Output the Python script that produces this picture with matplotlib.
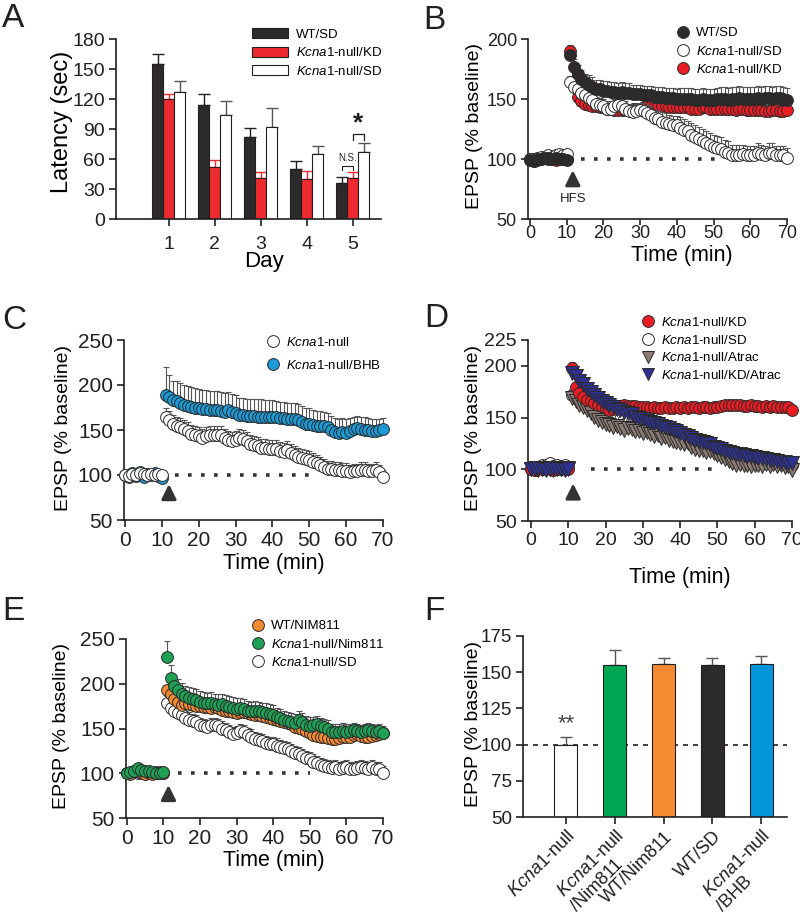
import numpy as np
import matplotlib
matplotlib.use("Agg")
import matplotlib.pyplot as plt
from matplotlib.patches import Patch
from matplotlib.lines import Line2D

plt.rcParams['font.family'] = ['Liberation Sans', 'DejaVu Sans']
plt.rcParams['mathtext.fontset'] = 'custom'
plt.rcParams['mathtext.rm'] = 'Liberation Sans'
plt.rcParams['mathtext.it'] = 'Liberation Sans:italic'

KC = r'$\mathit{Kcna1}$'
INK = '#231f20'

# ---------------- data ----------------
# A: latency per day
days = [1, 2, 3, 4, 5]
lat_wt = [155, 114, 82, 50, 36]
lat_wt_err = [10, 11, 9, 8, 6]
lat_kd = [120, 52, 41, 40, 41]
lat_kd_err = [5, 7, 6, 8, 6]
lat_sd = [127, 104, 92, 65, 67]
lat_sd_err = [11, 14, 19, 8, 9]

# time axis for LTP panels (min)
minutes = np.arange(71)

# B
b_wt = [99, 98, 100, 100, 101, 101, 100, 101, 100, 100, 99,
        187, 177, 171, 167, 164, 162, 160, 158, 158, 157,
        157, 156, 156, 155, 156, 155, 155, 154, 154, 154,
        153, 153, 153, 152, 152, 152, 151, 151, 151, 150,
        150, 150, 150, 150, 149, 149, 150, 149, 149, 149,
        150, 150, 150, 149, 150, 150, 151, 150, 150, 150,
        150, 151, 150, 151, 151, 150, 151, 151, 150, 149]
b_wt_err = [1, 1, 1, 1, 1, 1, 1, 1, 1, 1, 1,
            4, 6, 7, 7, 7, 8, 8, 8, 8, 8,
            8, 8, 8, 8, 8, 8, 8, 8, 8, 8,
            8, 8, 8, 8, 8, 8, 8, 8, 8, 8,
            9, 9, 9, 9, 9, 9, 9, 9, 9, 9,
            9, 10, 10, 10, 10, 10, 10, 10, 10, 10,
            10, 10, 10, 10, 10, 10, 10, 10, 10, 10]
b_kd = [100, 100, 99, 100, 101, 100, 100, 99, 100, 100, 100,
        190, 165, 152, 148, 146, 145, 144, 144, 143, 143,
        142, 142, 141, 141, 141, 141, 141, 142, 142, 142,
        143, 144, 144, 145, 145, 144, 144, 143, 143, 143,
        143, 143, 143, 142, 142, 142, 143, 143, 142, 142,
        142, 142, 142, 142, 142, 141, 142, 142, 141, 141,
        141, 141, 141, 140, 140, 141, 141, 140, 140, 141]
b_kd_err = [1, 1, 1, 1, 1, 1, 1, 1, 1, 1, 1,
            5, 4, 3, 3, 3, 3, 3, 3, 3, 3,
            3, 3, 3, 3, 3, 3, 3, 3, 3, 3,
            3, 3, 3, 3, 3, 3, 3, 3, 3, 3,
            3, 3, 3, 3, 3, 3, 3, 3, 3, 3,
            3, 3, 3, 3, 3, 3, 3, 3, 3, 3,
            3, 3, 3, 3, 3, 3, 3, 3, 3, 3]
b_sd = [100, 98, 101, 102, 102, 103, 102, 103, 104, 103, 104,
        164, 160, 158, 155, 153, 151, 149, 146, 145, 144,
        142, 142, 144, 145, 144, 142, 140, 139, 140, 141,
        140, 138, 137, 134, 133, 131, 130, 129, 128, 128,
        126, 124, 123, 120, 118, 117, 115, 113, 112, 110,
        109, 108, 106, 105, 103, 103, 103, 104, 103, 103,
        103, 105, 104, 103, 105, 105, 103, 103, 103, 101]
b_sd_err = [1, 1, 1, 1, 1, 1, 1, 1, 1, 1, 1,
            5, 5, 5, 5, 6, 6, 6, 6, 6, 6,
            6, 6, 6, 6, 6, 6, 6, 6, 6, 6,
            7, 7, 7, 7, 7, 8, 8, 8, 8, 8,
            9, 9, 9, 10, 10, 10, 10, 10, 10, 10,
            10, 10, 10, 10, 9, 9, 9, 8, 8, 8,
            8, 8, 8, 8, 8, 8, 8, 8, 8, 8]

# C
c_null = [100, 99, 101, 100, 102, 101, 100, 101, 100, 101, 100,
          165, 161, 157, 155, 153, 151, 149, 146, 144, 143,
          141, 143, 144, 145, 144, 144, 141, 139, 138, 139,
          141, 140, 138, 135, 133, 132, 130, 130, 129, 129,
          129, 127, 126, 128, 125, 122, 120, 119, 118, 117,
          115, 113, 111, 109, 107, 107, 106, 106, 104, 104,
          103, 104, 104, 106, 106, 104, 104, 106, 103, 98]
c_null_err = [2, 2, 2, 2, 2, 2, 2, 2, 2, 2, 2,
              10, 10, 10, 10, 10, 10, 10, 10, 10, 10,
              10, 10, 10, 10, 10, 10, 10, 10, 10, 10,
              10, 10, 10, 10, 10, 10, 10, 10, 10, 10,
              10, 10, 10, 10, 10, 10, 10, 10, 10, 10,
              9, 9, 9, 9, 9, 9, 9, 9, 9, 9,
              8, 8, 8, 8, 8, 8, 8, 8, 8, 8]
c_bhb = [100, 98, 102, 99, 103, 98, 101, 100, 102, 99, 97,
         189, 187, 183, 182, 180, 178, 177, 176, 175, 174,
         173, 173, 172, 172, 172, 171, 170, 172, 170, 169,
         167, 167, 166, 166, 166, 165, 165, 164, 164, 164,
         164, 163, 163, 162, 162, 162, 161, 159, 157, 157,
         156, 155, 155, 154, 153, 150, 148, 147, 148, 147,
         149, 151, 152, 151, 150, 150, 149, 149, 150, 151]
c_bhb_err = [2, 2, 2, 2, 2, 2, 2, 2, 2, 2, 2,
             31, 24, 22, 22, 22, 22, 22, 22, 22, 22,
             22, 21, 21, 21, 21, 21, 21, 20, 20, 20,
             19, 19, 19, 19, 19, 19, 19, 19, 19, 19,
             18, 18, 18, 18, 18, 18, 18, 18, 18, 18,
             16, 16, 16, 16, 16, 16, 15, 15, 15, 15,
             14, 14, 14, 14, 14, 13, 13, 13, 12, 12]

# D
d_kd = [100, 99, 101, 100, 100, 101, 99, 100, 100, 101, 100,
        198, 180, 174, 170, 167, 166, 164, 162, 161, 159,
        157, 158, 160, 161, 162, 161, 161, 161, 160, 160,
        160, 159, 160, 159, 159, 160, 159, 159, 160, 159,
        160, 159, 160, 160, 159, 160, 160, 159, 160, 160,
        161, 162, 162, 162, 162, 162, 161, 161, 162, 161,
        161, 160, 161, 160, 161, 160, 160, 160, 160, 157]
d_kd_err = [1, 1, 1, 1, 1, 1, 1, 1, 1, 1, 1,
            6, 4, 4, 4, 4, 4, 4, 4, 4, 4,
            4, 4, 4, 4, 4, 4, 4, 4, 4, 4,
            4, 4, 4, 4, 4, 4, 4, 4, 4, 4,
            4, 4, 4, 4, 4, 4, 4, 4, 4, 4,
            4, 4, 4, 4, 4, 4, 4, 4, 4, 4,
            4, 4, 4, 4, 4, 4, 4, 4, 4, 4]
d_sd = [100, 99, 102, 104, 104, 106, 103, 104, 103, 104, 102,
        172, 170, 169, 167, 164, 162, 160, 158, 156, 154,
        152, 151, 150, 149, 149, 148, 147, 146, 145, 145,
        143, 142, 141, 140, 140, 138, 137, 136, 135, 135,
        133, 131, 130, 129, 128, 127, 125, 123, 121, 120,
        119, 117, 115, 113, 111, 109, 108, 107, 106, 106,
        107, 107, 107, 106, 106, 106, 105, 105, 104, 104]
d_sd_err = [2, 2, 2, 2, 2, 2, 2, 2, 2, 2, 2,
            6, 6, 6, 6, 6, 6, 6, 6, 6, 6,
            6, 6, 6, 6, 6, 6, 6, 6, 6, 6,
            7, 7, 7, 7, 7, 7, 7, 7, 7, 7,
            7, 7, 7, 7, 7, 7, 7, 7, 7, 7,
            6, 6, 6, 6, 6, 6, 6, 6, 6, 6,
            6, 6, 6, 6, 6, 6, 6, 6, 6, 6]
d_atrac = [100, 101, 99, 100, 101, 100, 99, 101, 100, 100, 101,
           169, 166, 162, 160, 157, 154, 151, 148, 146, 144,
           143, 141, 142, 140, 138, 140, 139, 137, 137, 135,
           136, 134, 132, 133, 130, 131, 128, 127, 126, 125,
           124, 125, 122, 120, 119, 119, 117, 118, 116, 114,
           112, 110, 108, 106, 104, 105, 104, 104, 103, 104,
           104, 103, 105, 103, 105, 103, 104, 102, 103, 99]
d_atrac_err = [2, 2, 2, 2, 2, 2, 2, 2, 2, 2, 2,
               5, 5, 5, 5, 5, 5, 5, 5, 5, 5,
               5, 5, 5, 5, 5, 5, 5, 5, 5, 5,
               5, 5, 5, 5, 5, 5, 5, 5, 5, 5,
               5, 5, 5, 5, 5, 5, 5, 5, 5, 5,
               5, 5, 5, 5, 5, 5, 5, 5, 5, 5,
               5, 5, 5, 5, 5, 5, 5, 5, 5, 5]
d_kdatrac = [100, 100, 101, 100, 99, 100, 101, 100, 100, 99, 100,
             193, 190, 185, 182, 178, 175, 172, 169, 166, 164,
             162, 160, 158, 157, 155, 154, 153, 151, 150, 149,
             147, 146, 145, 144, 142, 141, 140, 138, 137, 135,
             133, 132, 130, 128, 127, 126, 125, 124, 122, 121,
             120, 118, 117, 116, 115, 115, 114, 113, 113, 112,
             111, 111, 110, 109, 109, 108, 107, 107, 106, 106]
d_kdatrac_err = [2, 2, 2, 2, 2, 2, 2, 2, 2, 2, 2,
                 5, 5, 5, 5, 5, 5, 5, 5, 5, 5,
                 5, 5, 5, 5, 5, 5, 5, 5, 5, 5,
                 5, 5, 5, 5, 5, 5, 5, 5, 5, 5,
                 5, 5, 5, 5, 5, 5, 5, 5, 5, 5,
                 5, 5, 5, 5, 5, 5, 5, 5, 5, 5,
                 5, 5, 5, 5, 5, 5, 5, 5, 5, 5]

# E
e_wt = [100, 99, 102, 103, 101, 99, 100, 99, 100, 101, 100,
        193, 188, 183, 180, 176, 178, 177, 176, 175, 175,
        174, 174, 173, 174, 173, 171, 170, 169, 168, 167,
        168, 168, 167, 166, 165, 165, 164, 163, 162, 161,
        159, 158, 157, 156, 155, 152, 151, 150, 147, 145,
        143, 142, 141, 140, 139, 138, 138, 139, 140, 140,
        141, 143, 144, 142, 140, 141, 142, 143, 144, 145]
e_wt_err = [2, 2, 2, 2, 2, 2, 2, 2, 2, 2, 2,
            6, 6, 6, 6, 6, 6, 6, 6, 6, 6,
            6, 6, 6, 6, 6, 6, 6, 6, 6, 6,
            6, 6, 6, 6, 6, 6, 6, 6, 6, 6,
            6, 6, 6, 6, 6, 6, 6, 6, 6, 6,
            6, 6, 6, 6, 6, 6, 6, 6, 6, 6,
            6, 6, 6, 6, 6, 6, 6, 6, 6, 6]
e_null = [100, 101, 102, 106, 104, 103, 102, 101, 100, 100, 101,
          230, 206, 198, 193, 189, 186, 184, 183, 182, 180,
          179, 178, 179, 177, 176, 177, 175, 174, 173, 172,
          173, 172, 170, 169, 170, 169, 168, 167, 166, 165,
          163, 162, 160, 158, 157, 156, 160, 157, 154, 153,
          154, 155, 153, 152, 150, 146, 146, 146, 147, 146,
          147, 148, 147, 146, 147, 148, 147, 146, 147, 145]
e_null_err = [2, 2, 2, 2, 2, 2, 2, 2, 2, 2, 2,
              18, 15, 12, 12, 12, 12, 12, 12, 12, 12,
              12, 12, 12, 12, 12, 12, 12, 12, 12, 12,
              11, 11, 11, 11, 11, 11, 11, 11, 11, 11,
              10, 10, 10, 10, 10, 10, 10, 10, 10, 10,
              9, 9, 9, 9, 9, 9, 9, 9, 9, 9,
              8, 8, 8, 8, 8, 8, 8, 8, 8, 8]
e_sd = [100, 100, 101, 100, 100, 101, 100, 100, 101, 100, 100,
        178, 173, 169, 167, 165, 162, 160, 158, 157, 154,
        153, 152, 154, 154, 153, 150, 148, 146, 144, 145,
        147, 146, 143, 141, 138, 137, 136, 134, 133, 133,
        131, 129, 128, 127, 125, 123, 121, 119, 117, 116,
        113, 111, 109, 108, 107, 106, 107, 105, 106, 107,
        105, 105, 106, 107, 106, 105, 107, 105, 105, 100]
e_sd_err = [2, 2, 2, 2, 2, 2, 2, 2, 2, 2, 2,
            8, 8, 8, 8, 8, 8, 8, 8, 8, 8,
            8, 8, 8, 8, 8, 8, 8, 8, 8, 8,
            8, 8, 8, 8, 8, 8, 8, 8, 8, 8,
            8, 8, 8, 8, 8, 8, 8, 8, 8, 8,
            8, 8, 8, 8, 8, 8, 8, 8, 8, 8,
            8, 8, 8, 8, 8, 8, 8, 8, 8, 8]

# F: LTP summary
f_groups = [KC + '-null', KC + '-null\n/Nim811', 'WT/Nim811', 'WT/SD', KC + '-null\n/BHB']
f_vals = [100, 155, 156, 155, 156]
f_errs = [5, 10, 4, 5, 5]
f_colors = ['white', '#00a651', '#f58a33', '#2d2a2b', '#0096d9']

# ---------------- figure ----------------
W, H = 800, 915
fig = plt.figure(figsize=(W / 100, H / 100), dpi=100)


def make_ax(l, r, t, b, tsize=13.5):
    ax = fig.add_axes([l / W, 1 - b / H, (r - l) / W, (b - t) / H])
    for s in ['top', 'right']:
        ax.spines[s].set_visible(False)
    for s in ['left', 'bottom']:
        ax.spines[s].set_linewidth(1.2)
        ax.spines[s].set_color(INK)
    ax.tick_params(direction='out', length=5, width=1.2, labelsize=tsize,
                   colors=INK, pad=3)
    return ax


def fig_pt(x, y):
    return (x / W, 1 - y / H)


def series(ax, y, err, marker, fc, z, ms=8.5, ec='#2a2a2a', ecol='#555555'):
    ax.errorbar(minutes, y, yerr=[np.zeros(len(err)), err], fmt='none',
                ecolor=ecol, elinewidth=0.8, capsize=2, capthick=0.8,
                zorder=z - 0.5, clip_on=False)
    ax.plot(minutes, y, marker, ls='none', ms=ms, mfc=fc, mec=ec, mew=0.7,
            zorder=z, clip_on=False)


def ltp_decor(ax, arrow_x, arrow_y0, arrow_y1, dot_x0, dot_x1):
    ax.plot([dot_x0, dot_x1], [100, 100], color='#333333', lw=2.6,
            dashes=(1, 2.6), zorder=1)
    ax.annotate('', xy=(arrow_x, arrow_y1), xytext=(arrow_x, arrow_y0),
                arrowprops=dict(arrowstyle='-|>', color='#333333', lw=2.2,
                                mutation_scale=22))


def time_axis(ax, lx, ly):
    ax.set_xticks(range(0, 71, 10))
    ax.set_xlabel('Time (min)', fontsize=15.5)
    ax.xaxis.set_label_coords(*fig_pt(lx, ly), transform=fig.transFigure)


def epsp_label(ax, lx, ly):
    ax.set_ylabel('EPSP (% baseline)', fontsize=14)
    ax.yaxis.set_label_coords(*fig_pt(lx, ly), transform=fig.transFigure)


def marker_legend(ax, handles, labels, x, y, spacing):
    ax.legend(handles, labels, loc='upper left', bbox_to_anchor=fig_pt(x, y),
              bbox_transform=fig.transFigure, frameon=False, fontsize=9.5,
              handlelength=1.0, handletextpad=0.5, labelspacing=spacing,
              borderpad=0, borderaxespad=0)


def mk(marker, fc, ms=8.5):
    return Line2D([], [], marker=marker, ls='none', ms=ms, mfc=fc,
                  mec='#2a2a2a', mew=0.7)


# ---- A ----
axA = make_ax(116, 381, 39, 219, tsize=14)
bw = 0.24
x = np.array(days)
axA.bar(x - bw, lat_wt, bw, color='#2d2a2b', edgecolor=INK, lw=0.8, zorder=2)
axA.bar(x, lat_kd, bw, color='#ed2a2f', edgecolor=INK, lw=0.8, zorder=2)
axA.bar(x + bw, lat_sd, bw, color='white', edgecolor=INK, lw=0.8, zorder=2)
axA.errorbar(x - bw, lat_wt, yerr=[np.zeros(5), lat_wt_err], fmt='none',
             ecolor=INK, elinewidth=1, capsize=4, capthick=1, zorder=1)
axA.errorbar(x, lat_kd, yerr=[np.zeros(5), lat_kd_err], fmt='none',
             ecolor='#ed2a2f', elinewidth=1, capsize=4, capthick=1, zorder=1)
axA.errorbar(x + bw, lat_sd, yerr=[np.zeros(5), lat_sd_err], fmt='none',
             ecolor='#555555', elinewidth=1, capsize=4, capthick=1, zorder=1)
axA.set_xlim(-0.15, 5.61)
axA.set_ylim(0, 180)
axA.set_yticks([0, 30, 60, 90, 120, 150, 180])
axA.set_xticks(days)
axA.tick_params(axis='x', pad=7)
axA.set_ylabel('Latency (sec)', fontsize=17)
axA.yaxis.set_label_coords(*fig_pt(73, 122), transform=fig.transFigure)
axA.set_xlabel('Day', fontsize=16)
axA.xaxis.set_label_coords(*fig_pt(264, 251), transform=fig.transFigure)
# significance brackets on day 5
axA.plot([5 - bw, 5 - bw, 5, 5], [49, 53, 53, 49], color=INK, lw=0.8)
axA.text(5 - bw / 2, 56, 'N.S.', ha='center', va='bottom', fontsize=7, color=INK)
axA.plot([5, 5, 5 + bw, 5 + bw], [79, 85, 85, 79], color=INK, lw=0.9)
axA.text(5 + bw / 2, 84, '*', ha='center', va='bottom', fontsize=19,
         fontweight='bold', color=INK)
axA.legend([Patch(fc='#2d2a2b', ec=INK, lw=0.8), Patch(fc='#ed2a2f', ec=INK, lw=0.8),
            Patch(fc='white', ec=INK, lw=0.8)],
           ['WT/SD', KC + '-null/KD', KC + '-null/SD'],
           loc='upper left', bbox_to_anchor=fig_pt(252, 28),
           bbox_transform=fig.transFigure, frameon=False, fontsize=9.5,
           handlelength=2.7, handleheight=0.8, handletextpad=0.6,
           labelspacing=0.42, borderpad=0, borderaxespad=0)

# ---- B ----
axB = make_ax(528, 787, 39, 219, tsize=13)
series(axB, b_kd, b_kd_err, 'o', '#ec1c24', 3)
series(axB, b_sd, b_sd_err, 'o', 'white', 4)
series(axB, b_wt, b_wt_err, 'o', '#2d2a2b', 5)
ltp_decor(axB, 11.7, 77, 93, 14, 51)
axB.text(11.7, 67, 'HFS', ha='center', va='center', fontsize=9.5, color=INK)
axB.set_xlim(-0.5, 70)
axB.set_ylim(50, 200)
axB.set_yticks([50, 100, 150, 200])
axB.tick_params(axis='x', pad=0, length=4)
time_axis(axB, 682, 245)
epsp_label(axB, 483, 126)
marker_legend(axB, [mk('o', '#2d2a2b'), mk('o', 'white'), mk('o', '#ec1c24')],
              ['WT/SD', KC + '-null/SD', KC + '-null/KD'], 676, 27, 0.4)

# ---- C ----
axC = make_ax(124, 383, 340, 520, tsize=15)
series(axC, c_bhb, c_bhb_err, 'o', '#1b9ad6', 3)
series(axC, c_null, c_null_err, 'o', 'white', 4)
ltp_decor(axC, 11.9, 72, 93, 13.5, 51)
axC.set_xlim(-0.3, 70)
axC.set_ylim(50, 250)
axC.set_yticks([50, 100, 150, 200, 250])
time_axis(axC, 274, 553)
epsp_label(axC, 72, 428)
marker_legend(axC, [mk('o', 'white'), mk('o', '#1b9ad6')],
              [KC + '-null', KC + '-null/BHB'], 266, 336, 0.75)

# ---- D ----
axD = make_ax(528, 792, 340, 521, tsize=14)
series(axD, d_sd, d_sd_err, 'o', 'white', 3)
series(axD, d_atrac, d_atrac_err, 'v', '#8c7b74', 4, ms=9.5)
series(axD, d_kd, d_kd_err, 'o', '#ec1c24', 5)
series(axD, d_kdatrac, d_kdatrac_err, 'v', '#2e3192', 6, ms=9.5)
ltp_decor(axD, 11.3, 72, 89, 16, 50)
axD.set_xlim(-0.8, 70)
axD.set_ylim(50, 225)
axD.set_yticks([50, 100, 150, 200, 225])
time_axis(axD, 680, 567)
epsp_label(axD, 482, 428)
marker_legend(axD, [mk('o', '#ec1c24'), mk('o', 'white'), mk('v', '#8c7b74'),
                    mk('v', '#2e3192')],
              [KC + '-null/KD', KC + '-null/SD', KC + '-null/Atrac',
               KC + '-null/KD/Atrac'], 641, 316, 0.35)

# ---- E ----
axE = make_ax(126, 383, 639, 818, tsize=15)
series(axE, e_sd, e_sd_err, 'o', 'white', 3)
series(axE, e_wt, e_wt_err, 'o', '#f58a33', 4)
series(axE, e_null, e_null_err, 'o', '#1fa055', 5)
ltp_decor(axE, 11.4, 72, 90, 14, 50)
axE.set_xlim(-0.2, 70)
axE.set_ylim(50, 250)
axE.set_yticks([50, 100, 150, 200, 250])
time_axis(axE, 274, 850)
epsp_label(axE, 70, 726)
marker_legend(axE, [mk('o', '#f58a33'), mk('o', '#1fa055'), mk('o', 'white')],
              ['WT/NIM811', KC + '-null/Nim811', KC + '-null/SD'], 251, 620, 0.4)

# ---- F ----
axF = make_ax(523, 787, 636, 817, tsize=13.5)
xf = np.arange(len(f_vals))
axF.axhline(100, color=INK, lw=1.2, dashes=(3, 3), zorder=0)
axF.bar(xf, f_vals, 0.47, color=f_colors, edgecolor=INK, lw=0.8, zorder=2)
axF.errorbar(xf, f_vals, yerr=[np.zeros(5), f_errs], fmt='none', ecolor='#555555',
             elinewidth=1, capsize=4, capthick=1, zorder=1)
axF.text(0, 107, '**', ha='center', va='bottom', fontsize=16, color='#444444')
axF.set_xlim(-0.88, 4.53)
axF.set_ylim(50, 175)
axF.set_yticks([50, 75, 100, 125, 150, 175])
axF.set_xticks(xf)
axF.set_xticklabels(f_groups, rotation=45, ha='right', va='top',
                    rotation_mode='anchor', fontsize=13, multialignment='left')
epsp_label(axF, 482, 724)

# panel letters
for letter, px, py in [('A', 2, 3), ('B', 423, 5), ('C', 2, 305), ('D', 424, 303),
                       ('E', 2, 596), ('F', 424, 596)]:
    fig.text(px / W, 1 - py / H, letter, fontsize=24, va='top', ha='left', color=INK)

fig.savefig('out.png', dpi=100)
